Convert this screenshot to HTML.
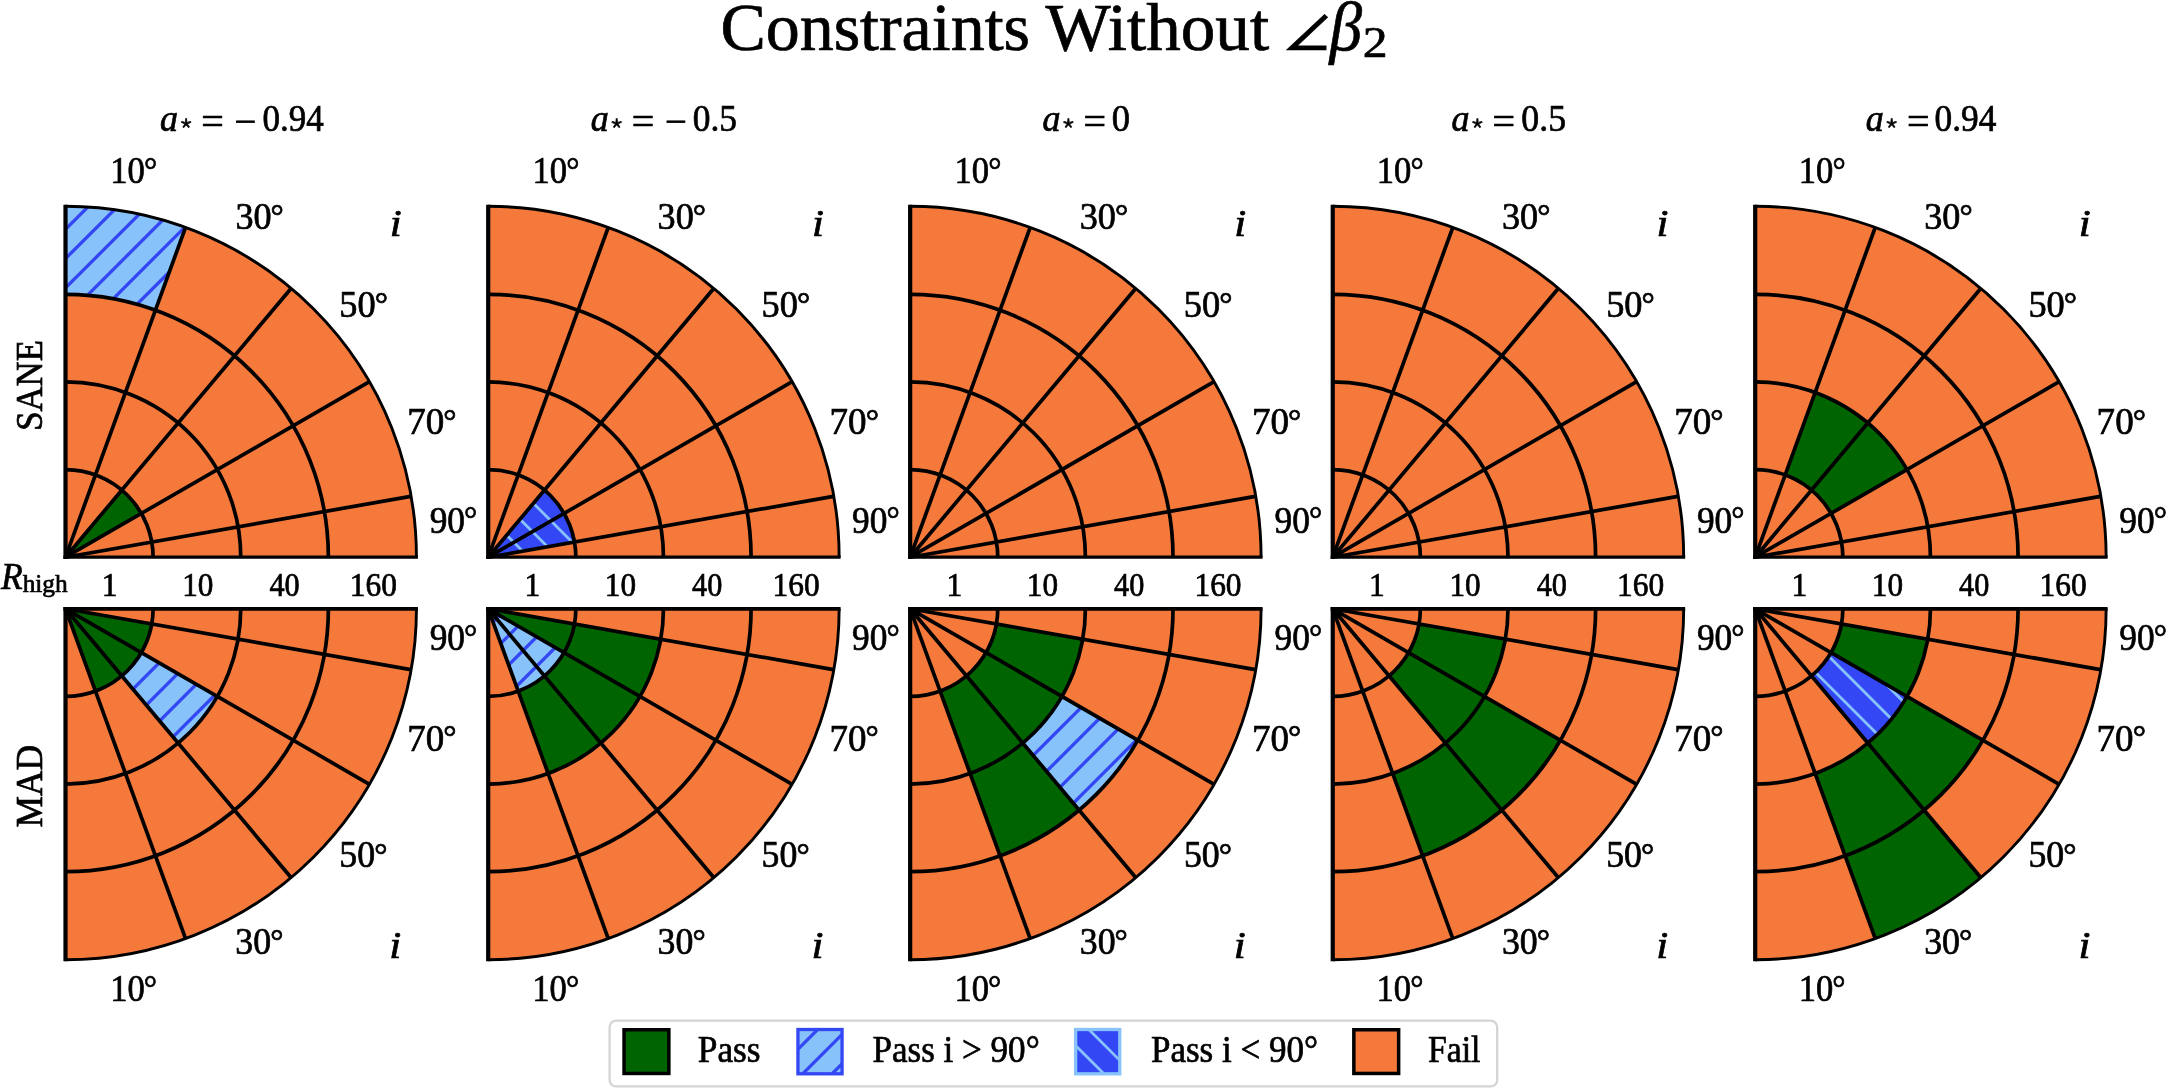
<!DOCTYPE html>
<html><head><meta charset="utf-8"><title>Constraints Without ∠β2</title>
<style>
html,body{margin:0;padding:0;background:#fff;}
svg{display:block;filter:blur(0.4px);font-family:"Liberation Serif","DejaVu Serif",serif;fill:#000;}
text{stroke:#000;stroke-width:0.7px;}
.g{stroke:#000;stroke-width:3.7;fill:none;stroke-linecap:butt;stroke-linejoin:miter}
.t{font-size:33px}
.i{font-style:italic}
</style></head><body>
<svg width="2167" height="1090" viewBox="0 0 2167 1090">
<rect width="2167" height="1090" fill="#fff"/>

<path d="M65.50 557.20L65.50 206.70A350.5 350.5 0 0 1 416.00 557.20Z" fill="#f5793a"/>
<clipPath id="c1"><path d="M65.50 206.70A350.50 350.50 0 0 1 185.38 227.84L155.41 310.18A262.88 262.88 0 0 0 65.50 294.33Z"/></clipPath><g clip-path="url(#c1)"><rect x="63.50" y="204.70" width="123.88" height="107.48" fill="#87c2fa"/><path d="M63.50 202.06L187.38 78.18M63.50 231.35L187.38 107.47M63.50 260.64L187.38 136.76M63.50 289.93L187.38 166.05M63.50 319.22L187.38 195.34M63.50 348.51L187.38 224.63M63.50 377.80L187.38 253.92M63.50 407.09L187.38 283.21M63.50 436.38L187.38 312.50" stroke="#3447f5" stroke-width="3.3" fill="none"/></g>
<path d="M121.82 490.08A87.62 87.62 0 0 1 141.39 513.39L65.50 557.20Z" fill="#006400"/>
<path class="g" d="M65.50 469.58A87.62 87.62 0 0 1 153.12 557.20M65.50 381.95A175.25 175.25 0 0 1 240.75 557.20M65.50 294.33A262.88 262.88 0 0 1 328.38 557.20M65.50 557.20L185.38 227.84M65.50 557.20L290.80 288.70M65.50 557.20L369.04 381.95M65.50 557.20L410.68 496.34"/>
<path class="g" style="stroke-width:2.9" d="M65.50 206.25A350.95 350.95 0 0 1 416.45 557.20"/>
<path class="g" style="stroke-width:4.2" d="M65.50 559.05L65.50 204.80"/>
<path class="g" style="stroke-width:3.3" d="M63.40 557.20L417.90 557.20"/>
<path d="M65.50 608.80L65.50 959.30A350.5 350.5 0 0 0 416.00 608.80Z" fill="#f5793a"/>
<path d="M95.47 691.14A87.62 87.62 0 0 0 121.82 675.92L65.50 608.80Z" fill="#006400"/>
<path d="M121.82 675.92A87.62 87.62 0 0 0 141.39 652.61L65.50 608.80Z" fill="#006400"/>
<path d="M141.39 652.61A87.62 87.62 0 0 0 151.79 624.02L65.50 608.80Z" fill="#006400"/>
<clipPath id="c2"><path d="M178.15 743.05A175.25 175.25 0 0 0 217.27 696.42L141.39 652.61A87.62 87.62 0 0 1 121.82 675.92Z"/></clipPath><g clip-path="url(#c2)"><rect x="119.82" y="650.61" width="99.45" height="94.44" fill="#87c2fa"/><path d="M119.82 643.67L219.27 544.22M119.82 672.96L219.27 573.51M119.82 702.25L219.27 602.80M119.82 731.54L219.27 632.09M119.82 760.83L219.27 661.38M119.82 790.12L219.27 690.67M119.82 819.41L219.27 719.96M119.82 848.70L219.27 749.25" stroke="#3447f5" stroke-width="3.3" fill="none"/></g>
<path class="g" d="M65.50 696.42A87.62 87.62 0 0 0 153.12 608.80M65.50 784.05A175.25 175.25 0 0 0 240.75 608.80M65.50 871.67A262.88 262.88 0 0 0 328.38 608.80M65.50 608.80L185.38 938.16M65.50 608.80L290.80 877.30M65.50 608.80L369.04 784.05M65.50 608.80L410.68 669.66"/>
<path class="g" style="stroke-width:2.9" d="M65.50 959.75A350.95 350.95 0 0 0 416.45 608.80"/>
<path class="g" style="stroke-width:4.2" d="M65.50 606.95L65.50 961.20"/>
<path class="g" style="stroke-width:3.7" d="M63.40 608.80L417.90 608.80"/>
<path d="M488.20 557.20L488.20 206.70A350.5 350.5 0 0 1 838.70 557.20Z" fill="#f5793a"/>
<clipPath id="c3"><path d="M544.52 490.08A87.62 87.62 0 0 1 564.09 513.39L488.20 557.20Z"/></clipPath><g clip-path="url(#c3)"><rect x="486.20" y="488.08" width="79.89" height="71.12" fill="#3447f5"/><path d="M486.20 573.27L566.09 653.16M486.20 543.98L566.09 623.87M486.20 514.69L566.09 594.58M486.20 485.40L566.09 565.29M486.20 456.11L566.09 536.00M486.20 426.82L566.09 506.71M486.20 397.53L566.09 477.42" stroke="#87c2fa" stroke-width="2.8" fill="none"/></g>
<clipPath id="c4"><path d="M564.09 513.39A87.62 87.62 0 0 1 574.49 541.98L488.20 557.20Z"/></clipPath><g clip-path="url(#c4)"><rect x="486.20" y="511.39" width="90.29" height="47.81" fill="#3447f5"/><path d="M486.20 573.27L576.49 663.56M486.20 543.98L576.49 634.27M486.20 514.69L576.49 604.98M486.20 485.40L576.49 575.69M486.20 456.11L576.49 546.40M486.20 426.82L576.49 517.11M486.20 397.53L576.49 487.82" stroke="#87c2fa" stroke-width="2.8" fill="none"/></g>
<path class="g" d="M488.20 469.58A87.62 87.62 0 0 1 575.83 557.20M488.20 381.95A175.25 175.25 0 0 1 663.45 557.20M488.20 294.33A262.88 262.88 0 0 1 751.08 557.20M488.20 557.20L608.08 227.84M488.20 557.20L713.50 288.70M488.20 557.20L791.74 381.95M488.20 557.20L833.38 496.34"/>
<path class="g" style="stroke-width:2.9" d="M488.20 206.25A350.95 350.95 0 0 1 839.15 557.20"/>
<path class="g" style="stroke-width:4.2" d="M488.20 559.05L488.20 204.80"/>
<path class="g" style="stroke-width:3.3" d="M486.10 557.20L840.60 557.20"/>
<path d="M488.20 608.80L488.20 959.30A350.5 350.5 0 0 0 838.70 608.80Z" fill="#f5793a"/>
<path d="M564.09 652.61A87.62 87.62 0 0 0 574.49 624.02L488.20 608.80Z" fill="#006400"/>
<clipPath id="c5"><path d="M544.52 675.92A87.62 87.62 0 0 0 564.09 652.61L488.20 608.80Z"/></clipPath><g clip-path="url(#c5)"><rect x="486.20" y="606.80" width="79.89" height="71.12" fill="#87c2fa"/><path d="M486.20 599.48L566.09 519.59M486.20 628.77L566.09 548.88M486.20 658.06L566.09 578.17M486.20 687.35L566.09 607.46M486.20 716.64L566.09 636.75M486.20 745.93L566.09 666.04M486.20 775.22L566.09 695.33" stroke="#3447f5" stroke-width="3.3" fill="none"/></g>
<clipPath id="c6"><path d="M518.17 691.14A87.62 87.62 0 0 0 544.52 675.92L488.20 608.80Z"/></clipPath><g clip-path="url(#c6)"><rect x="486.20" y="606.80" width="60.32" height="86.34" fill="#87c2fa"/><path d="M486.20 599.48L546.52 539.16M486.20 628.77L546.52 568.45M486.20 658.06L546.52 597.74M486.20 687.35L546.52 627.03M486.20 716.64L546.52 656.32M486.20 745.93L546.52 685.61M486.20 775.22L546.52 714.90" stroke="#3447f5" stroke-width="3.3" fill="none"/></g>
<path d="M548.14 773.48A175.25 175.25 0 0 0 600.85 743.05L544.52 675.92A87.62 87.62 0 0 1 518.17 691.14Z" fill="#006400"/>
<path d="M600.85 743.05A175.25 175.25 0 0 0 639.97 696.42L564.09 652.61A87.62 87.62 0 0 1 544.52 675.92Z" fill="#006400"/>
<path d="M639.97 696.42A175.25 175.25 0 0 0 660.79 639.23L574.49 624.02A87.62 87.62 0 0 1 564.09 652.61Z" fill="#006400"/>
<path class="g" d="M488.20 696.42A87.62 87.62 0 0 0 575.83 608.80M488.20 784.05A175.25 175.25 0 0 0 663.45 608.80M488.20 871.67A262.88 262.88 0 0 0 751.08 608.80M488.20 608.80L608.08 938.16M488.20 608.80L713.50 877.30M488.20 608.80L791.74 784.05M488.20 608.80L833.38 669.66"/>
<path class="g" style="stroke-width:2.9" d="M488.20 959.75A350.95 350.95 0 0 0 839.15 608.80"/>
<path class="g" style="stroke-width:4.2" d="M488.20 606.95L488.20 961.20"/>
<path class="g" style="stroke-width:3.7" d="M486.10 608.80L840.60 608.80"/>
<path d="M910.15 557.20L910.15 206.70A350.5 350.5 0 0 1 1260.65 557.20Z" fill="#f5793a"/>
<path class="g" d="M910.15 469.58A87.62 87.62 0 0 1 997.77 557.20M910.15 381.95A175.25 175.25 0 0 1 1085.40 557.20M910.15 294.33A262.88 262.88 0 0 1 1173.03 557.20M910.15 557.20L1030.03 227.84M910.15 557.20L1135.45 288.70M910.15 557.20L1213.69 381.95M910.15 557.20L1255.33 496.34"/>
<path class="g" style="stroke-width:2.9" d="M910.15 206.25A350.95 350.95 0 0 1 1261.10 557.20"/>
<path class="g" style="stroke-width:4.2" d="M910.15 559.05L910.15 204.80"/>
<path class="g" style="stroke-width:3.3" d="M908.05 557.20L1262.55 557.20"/>
<path d="M910.15 608.80L910.15 959.30A350.5 350.5 0 0 0 1260.65 608.80Z" fill="#f5793a"/>
<path d="M970.09 773.48A175.25 175.25 0 0 0 1022.80 743.05L966.47 675.92A87.62 87.62 0 0 1 940.12 691.14Z" fill="#006400"/>
<path d="M1022.80 743.05A175.25 175.25 0 0 0 1061.92 696.42L986.04 652.61A87.62 87.62 0 0 1 966.47 675.92Z" fill="#006400"/>
<path d="M1061.92 696.42A175.25 175.25 0 0 0 1082.74 639.23L996.44 624.02A87.62 87.62 0 0 1 986.04 652.61Z" fill="#006400"/>
<clipPath id="c7"><path d="M1079.12 810.17A262.88 262.88 0 0 0 1137.81 740.24L1061.92 696.42A175.25 175.25 0 0 1 1022.80 743.05Z"/></clipPath><g clip-path="url(#c7)"><rect x="1020.80" y="694.42" width="119.01" height="117.75" fill="#87c2fa"/><path d="M1020.80 679.97L1139.81 560.96M1020.80 709.26L1139.81 590.25M1020.80 738.55L1139.81 619.54M1020.80 767.84L1139.81 648.83M1020.80 797.13L1139.81 678.12M1020.80 826.42L1139.81 707.41M1020.80 855.71L1139.81 736.70M1020.80 885.00L1139.81 765.99M1020.80 914.29L1139.81 795.28M1020.80 943.58L1139.81 824.57" stroke="#3447f5" stroke-width="3.3" fill="none"/></g>
<path d="M1000.06 855.82A262.88 262.88 0 0 0 1079.12 810.17L1022.80 743.05A175.25 175.25 0 0 1 970.09 773.48Z" fill="#006400"/>
<path class="g" d="M910.15 696.42A87.62 87.62 0 0 0 997.77 608.80M910.15 784.05A175.25 175.25 0 0 0 1085.40 608.80M910.15 871.67A262.88 262.88 0 0 0 1173.03 608.80M910.15 608.80L1030.03 938.16M910.15 608.80L1135.45 877.30M910.15 608.80L1213.69 784.05M910.15 608.80L1255.33 669.66"/>
<path class="g" style="stroke-width:2.9" d="M910.15 959.75A350.95 350.95 0 0 0 1261.10 608.80"/>
<path class="g" style="stroke-width:4.2" d="M910.15 606.95L910.15 961.20"/>
<path class="g" style="stroke-width:3.7" d="M908.05 608.80L1262.55 608.80"/>
<path d="M1332.75 557.20L1332.75 206.70A350.5 350.5 0 0 1 1683.25 557.20Z" fill="#f5793a"/>
<path class="g" d="M1332.75 469.58A87.62 87.62 0 0 1 1420.38 557.20M1332.75 381.95A175.25 175.25 0 0 1 1508.00 557.20M1332.75 294.33A262.88 262.88 0 0 1 1595.62 557.20M1332.75 557.20L1452.63 227.84M1332.75 557.20L1558.05 288.70M1332.75 557.20L1636.29 381.95M1332.75 557.20L1677.93 496.34"/>
<path class="g" style="stroke-width:2.9" d="M1332.75 206.25A350.95 350.95 0 0 1 1683.70 557.20"/>
<path class="g" style="stroke-width:4.2" d="M1332.75 559.05L1332.75 204.80"/>
<path class="g" style="stroke-width:3.3" d="M1330.65 557.20L1685.15 557.20"/>
<path d="M1332.75 608.80L1332.75 959.30A350.5 350.5 0 0 0 1683.25 608.80Z" fill="#f5793a"/>
<path d="M1445.40 743.05A175.25 175.25 0 0 0 1484.52 696.42L1408.64 652.61A87.62 87.62 0 0 1 1389.07 675.92Z" fill="#006400"/>
<path d="M1484.52 696.42A175.25 175.25 0 0 0 1505.34 639.23L1419.04 624.02A87.62 87.62 0 0 1 1408.64 652.61Z" fill="#006400"/>
<path d="M1422.66 855.82A262.88 262.88 0 0 0 1501.72 810.17L1445.40 743.05A175.25 175.25 0 0 1 1392.69 773.48Z" fill="#006400"/>
<path d="M1501.72 810.17A262.88 262.88 0 0 0 1560.41 740.24L1484.52 696.42A175.25 175.25 0 0 1 1445.40 743.05Z" fill="#006400"/>
<path class="g" d="M1332.75 696.42A87.62 87.62 0 0 0 1420.38 608.80M1332.75 784.05A175.25 175.25 0 0 0 1508.00 608.80M1332.75 871.67A262.88 262.88 0 0 0 1595.62 608.80M1332.75 608.80L1452.63 938.16M1332.75 608.80L1558.05 877.30M1332.75 608.80L1636.29 784.05M1332.75 608.80L1677.93 669.66"/>
<path class="g" style="stroke-width:2.9" d="M1332.75 959.75A350.95 350.95 0 0 0 1683.70 608.80"/>
<path class="g" style="stroke-width:4.2" d="M1332.75 606.95L1332.75 961.20"/>
<path class="g" style="stroke-width:3.7" d="M1330.65 608.80L1685.15 608.80"/>
<path d="M1755.20 557.20L1755.20 206.70A350.5 350.5 0 0 1 2105.70 557.20Z" fill="#f5793a"/>
<path d="M1815.14 392.52A175.25 175.25 0 0 1 1867.85 422.95L1811.52 490.08A87.62 87.62 0 0 0 1785.17 474.86Z" fill="#006400"/>
<path d="M1867.85 422.95A175.25 175.25 0 0 1 1906.97 469.58L1831.09 513.39A87.62 87.62 0 0 0 1811.52 490.08Z" fill="#006400"/>
<path class="g" d="M1755.20 469.58A87.62 87.62 0 0 1 1842.83 557.20M1755.20 381.95A175.25 175.25 0 0 1 1930.45 557.20M1755.20 294.33A262.88 262.88 0 0 1 2018.08 557.20M1755.20 557.20L1875.08 227.84M1755.20 557.20L1980.50 288.70M1755.20 557.20L2058.74 381.95M1755.20 557.20L2100.38 496.34"/>
<path class="g" style="stroke-width:2.9" d="M1755.20 206.25A350.95 350.95 0 0 1 2106.15 557.20"/>
<path class="g" style="stroke-width:4.2" d="M1755.20 559.05L1755.20 204.80"/>
<path class="g" style="stroke-width:3.3" d="M1753.10 557.20L2107.60 557.20"/>
<path d="M1755.20 608.80L1755.20 959.30A350.5 350.5 0 0 0 2105.70 608.80Z" fill="#f5793a"/>
<path d="M1906.97 696.42A175.25 175.25 0 0 0 1927.79 639.23L1841.49 624.02A87.62 87.62 0 0 1 1831.09 652.61Z" fill="#006400"/>
<clipPath id="c8"><path d="M1867.85 743.05A175.25 175.25 0 0 0 1906.97 696.42L1831.09 652.61A87.62 87.62 0 0 1 1811.52 675.92Z"/></clipPath><g clip-path="url(#c8)"><rect x="1809.52" y="650.61" width="99.45" height="94.44" fill="#3447f5"/><path d="M1809.52 754.28L1908.97 853.73M1809.52 724.99L1908.97 824.44M1809.52 695.70L1908.97 795.15M1809.52 666.41L1908.97 765.86M1809.52 637.12L1908.97 736.57M1809.52 607.83L1908.97 707.28M1809.52 578.54L1908.97 677.99M1809.52 549.25L1908.97 648.70" stroke="#87c2fa" stroke-width="2.8" fill="none"/></g>
<path d="M1845.11 855.82A262.88 262.88 0 0 0 1924.17 810.17L1867.85 743.05A175.25 175.25 0 0 1 1815.14 773.48Z" fill="#006400"/>
<path d="M1924.17 810.17A262.88 262.88 0 0 0 1982.86 740.24L1906.97 696.42A175.25 175.25 0 0 1 1867.85 743.05Z" fill="#006400"/>
<path d="M1875.08 938.16A350.50 350.50 0 0 0 1980.50 877.30L1924.17 810.17A262.88 262.88 0 0 1 1845.11 855.82Z" fill="#006400"/>
<path class="g" d="M1755.20 696.42A87.62 87.62 0 0 0 1842.83 608.80M1755.20 784.05A175.25 175.25 0 0 0 1930.45 608.80M1755.20 871.67A262.88 262.88 0 0 0 2018.08 608.80M1755.20 608.80L1875.08 938.16M1755.20 608.80L1980.50 877.30M1755.20 608.80L2058.74 784.05M1755.20 608.80L2100.38 669.66"/>
<path class="g" style="stroke-width:2.9" d="M1755.20 959.75A350.95 350.95 0 0 0 2106.15 608.80"/>
<path class="g" style="stroke-width:4.2" d="M1755.20 606.95L1755.20 961.20"/>
<path class="g" style="stroke-width:3.7" d="M1753.10 608.80L2107.60 608.80"/>
<rect x="609.6" y="1020.7" width="887.6" height="65.7" rx="6.5" ry="6.5" fill="#fff" stroke="#d4d4d4" stroke-width="2.3"/>
<rect x="624.05" y="1029.75" width="44.8" height="43.7" fill="#006400" stroke="#000" stroke-width="3.5"/>
<clipPath id="c9"><rect x="797.95" y="1029.5" width="44.1" height="44.3"/></clipPath><g clip-path="url(#c9)"><rect x="796.30" y="1028.00" width="48.40" height="47.20" fill="#87c2fa"/><path d="M796.30 1021.63L844.70 973.23M796.30 1050.92L844.70 1002.52M796.30 1080.21L844.70 1031.81M796.30 1109.50L844.70 1061.10M796.30 1138.79L844.70 1090.39" stroke="#3447f5" stroke-width="3.3" fill="none"/></g><rect x="797.95" y="1029.5" width="44.1" height="44.3" fill="none" stroke="#3447f5" stroke-width="3.3"/>
<clipPath id="c10"><rect x="1075.65" y="1029.5" width="44.1" height="44.3"/></clipPath><g clip-path="url(#c10)"><rect x="1074.00" y="1028.00" width="48.40" height="47.20" fill="#3447f5"/><path d="M1074.00 1102.49L1122.40 1150.89M1074.00 1073.20L1122.40 1121.60M1074.00 1043.91L1122.40 1092.31M1074.00 1014.62L1122.40 1063.02M1074.00 985.33L1122.40 1033.73M1074.00 956.04L1122.40 1004.44" stroke="#87c2fa" stroke-width="2.8" fill="none"/></g><rect x="1075.65" y="1029.5" width="44.1" height="44.3" fill="none" stroke="#87c2fa" stroke-width="3.3"/>
<rect x="1353.85" y="1029.75" width="44.8" height="43.7" fill="#f5793a" stroke="#000" stroke-width="3.5"/>
<text transform="translate(720.38 49.60) scale(1.0175 1)" font-size="66.80">Constraints</text>
<text transform="translate(1045.40 49.60) scale(1.0346 1)" font-size="66.80">Without</text>
<text transform="translate(1282.14 49.50) scale(1.0662 1)" font-size="51.10" font-family="'DejaVu Math TeX Gyre','DejaVu Sans',sans-serif">∠</text>
<text transform="translate(1329.44 50.20) scale(0.9387 1)" font-size="69.50" font-style="italic">β</text>
<text transform="translate(1362.69 56.90) scale(1.1267 1)" font-size="44.10">2</text>
<text transform="translate(160.12 130.80) scale(0.9748 1)" font-size="37.00" font-style="italic">a</text>
<text transform="translate(179.65 128.60) scale(1.0173 1)" font-size="20.30" font-family="'DejaVu Math TeX Gyre','DejaVu Sans',sans-serif">⋆</text>
<text transform="translate(201.20 133.80) scale(1.0667 1)" font-size="37.50">=</text>
<text transform="translate(234.46 133.90) scale(1.0323 1)" font-size="37.50">−</text>
<text transform="translate(262.49 130.80) scale(0.9331 1)" font-size="37.50">0.94</text>
<text transform="translate(590.72 130.80) scale(0.9748 1)" font-size="37.00" font-style="italic">a</text>
<text transform="translate(610.25 128.60) scale(1.0173 1)" font-size="20.30" font-family="'DejaVu Math TeX Gyre','DejaVu Sans',sans-serif">⋆</text>
<text transform="translate(631.80 133.80) scale(1.0667 1)" font-size="37.50">=</text>
<text transform="translate(665.06 133.90) scale(1.0323 1)" font-size="37.50">−</text>
<text transform="translate(692.77 130.80) scale(0.9441 1)" font-size="37.50">0.5</text>
<text transform="translate(1042.52 130.80) scale(0.9748 1)" font-size="37.00" font-style="italic">a</text>
<text transform="translate(1062.05 128.60) scale(1.0173 1)" font-size="20.30" font-family="'DejaVu Math TeX Gyre','DejaVu Sans',sans-serif">⋆</text>
<text transform="translate(1083.60 133.80) scale(1.0667 1)" font-size="37.50">=</text>
<text transform="translate(1111.73 130.80) scale(0.9725 1)" font-size="37.50">0</text>
<text transform="translate(1451.52 130.80) scale(0.9748 1)" font-size="37.00" font-style="italic">a</text>
<text transform="translate(1471.05 128.60) scale(1.0173 1)" font-size="20.30" font-family="'DejaVu Math TeX Gyre','DejaVu Sans',sans-serif">⋆</text>
<text transform="translate(1492.60 133.80) scale(1.0667 1)" font-size="37.50">=</text>
<text transform="translate(1521.36 130.80) scale(0.9532 1)" font-size="37.50">0.5</text>
<text transform="translate(1865.82 130.80) scale(0.9748 1)" font-size="37.00" font-style="italic">a</text>
<text transform="translate(1885.35 128.60) scale(1.0173 1)" font-size="20.30" font-family="'DejaVu Math TeX Gyre','DejaVu Sans',sans-serif">⋆</text>
<text transform="translate(1906.90 133.80) scale(1.0667 1)" font-size="37.50">=</text>
<text transform="translate(1934.57 130.80) scale(0.9426 1)" font-size="37.50">0.94</text>
<text transform="translate(110.27 182.60) scale(0.9234 1)" font-size="37.50">10<tspan x="36.56" dy="-0.85" font-size="35.86">°</tspan></text>
<text transform="translate(235.38 228.70) scale(0.9647 1)" font-size="37.50">30<tspan x="36.54" dy="-1.87" font-size="34.33">°</tspan></text>
<text transform="translate(339.31 316.90) scale(0.9694 1)" font-size="37.50">50<tspan x="36.53" dy="-1.98" font-size="34.16">°</tspan></text>
<text transform="translate(407.19 434.10) scale(0.9879 1)" font-size="37.50">70<tspan x="36.53" dy="-2.41" font-size="33.52">°</tspan></text>
<text transform="translate(429.65 532.50) scale(0.9419 1)" font-size="37.50">90<tspan x="36.55" dy="-1.32" font-size="35.16">°</tspan></text>
<text transform="translate(429.65 650.00) scale(0.9419 1)" font-size="37.50">90<tspan x="36.55" dy="-1.32" font-size="35.16">°</tspan></text>
<text transform="translate(407.20 750.80) scale(0.9864 1)" font-size="37.50">70<tspan x="36.53" dy="-2.38" font-size="33.57">°</tspan></text>
<text transform="translate(339.34 867.30) scale(0.9547 1)" font-size="37.50">50<tspan x="36.54" dy="-1.63" font-size="34.69">°</tspan></text>
<text transform="translate(235.35 953.90) scale(0.9545 1)" font-size="37.50">30<tspan x="36.54" dy="-1.63" font-size="34.69">°</tspan></text>
<text transform="translate(110.18 1000.60) scale(0.9204 1)" font-size="37.50">10<tspan x="36.56" dy="-0.77" font-size="35.98">°</tspan></text>
<text transform="translate(389.63 235.50) scale(1.1113 1)" font-size="38.80" font-style="italic">i</text>
<text transform="translate(389.23 957.70) scale(1.1113 1)" font-size="38.80" font-style="italic">i</text>
<text transform="translate(101.74 595.60) scale(0.9630 1)" font-size="32.70">1</text>
<text transform="translate(182.17 595.60) scale(0.9541 1)" font-size="32.70">10</text>
<text transform="translate(269.40 595.60) scale(0.9247 1)" font-size="32.70">40</text>
<text transform="translate(349.80 595.60) scale(0.9606 1)" font-size="32.70">160</text>
<text transform="translate(532.40 182.60) scale(0.9234 1)" font-size="37.50">10<tspan x="36.56" dy="-0.85" font-size="35.86">°</tspan></text>
<text transform="translate(657.59 228.70) scale(0.9647 1)" font-size="37.50">30<tspan x="36.54" dy="-1.87" font-size="34.33">°</tspan></text>
<text transform="translate(761.59 316.90) scale(0.9694 1)" font-size="37.50">50<tspan x="36.53" dy="-1.98" font-size="34.16">°</tspan></text>
<text transform="translate(829.55 434.10) scale(0.9879 1)" font-size="37.50">70<tspan x="36.53" dy="-2.41" font-size="33.52">°</tspan></text>
<text transform="translate(852.08 532.50) scale(0.9419 1)" font-size="37.50">90<tspan x="36.55" dy="-1.32" font-size="35.16">°</tspan></text>
<text transform="translate(852.08 650.00) scale(0.9419 1)" font-size="37.50">90<tspan x="36.55" dy="-1.32" font-size="35.16">°</tspan></text>
<text transform="translate(829.55 750.80) scale(0.9864 1)" font-size="37.50">70<tspan x="36.53" dy="-2.38" font-size="33.57">°</tspan></text>
<text transform="translate(761.62 867.30) scale(0.9547 1)" font-size="37.50">50<tspan x="36.54" dy="-1.63" font-size="34.69">°</tspan></text>
<text transform="translate(657.55 953.90) scale(0.9545 1)" font-size="37.50">30<tspan x="36.54" dy="-1.63" font-size="34.69">°</tspan></text>
<text transform="translate(532.31 1000.60) scale(0.9204 1)" font-size="37.50">10<tspan x="36.56" dy="-0.77" font-size="35.98">°</tspan></text>
<text transform="translate(811.93 235.50) scale(1.1113 1)" font-size="38.80" font-style="italic">i</text>
<text transform="translate(811.53 957.70) scale(1.1113 1)" font-size="38.80" font-style="italic">i</text>
<text transform="translate(524.44 595.60) scale(0.9630 1)" font-size="32.70">1</text>
<text transform="translate(604.87 595.60) scale(0.9541 1)" font-size="32.70">10</text>
<text transform="translate(692.10 595.60) scale(0.9247 1)" font-size="32.70">40</text>
<text transform="translate(772.50 595.60) scale(0.9606 1)" font-size="32.70">160</text>
<text transform="translate(954.53 182.60) scale(0.9234 1)" font-size="37.50">10<tspan x="36.56" dy="-0.85" font-size="35.86">°</tspan></text>
<text transform="translate(1079.79 228.70) scale(0.9647 1)" font-size="37.50">30<tspan x="36.54" dy="-1.87" font-size="34.33">°</tspan></text>
<text transform="translate(1183.87 316.90) scale(0.9694 1)" font-size="37.50">50<tspan x="36.53" dy="-1.98" font-size="34.16">°</tspan></text>
<text transform="translate(1251.90 434.10) scale(0.9879 1)" font-size="37.50">70<tspan x="36.53" dy="-2.41" font-size="33.52">°</tspan></text>
<text transform="translate(1274.51 532.50) scale(0.9419 1)" font-size="37.50">90<tspan x="36.55" dy="-1.32" font-size="35.16">°</tspan></text>
<text transform="translate(1274.51 650.00) scale(0.9419 1)" font-size="37.50">90<tspan x="36.55" dy="-1.32" font-size="35.16">°</tspan></text>
<text transform="translate(1251.91 750.80) scale(0.9864 1)" font-size="37.50">70<tspan x="36.53" dy="-2.38" font-size="33.57">°</tspan></text>
<text transform="translate(1183.90 867.30) scale(0.9547 1)" font-size="37.50">50<tspan x="36.54" dy="-1.63" font-size="34.69">°</tspan></text>
<text transform="translate(1079.76 953.90) scale(0.9545 1)" font-size="37.50">30<tspan x="36.54" dy="-1.63" font-size="34.69">°</tspan></text>
<text transform="translate(954.44 1000.60) scale(0.9204 1)" font-size="37.50">10<tspan x="36.56" dy="-0.77" font-size="35.98">°</tspan></text>
<text transform="translate(1234.23 235.50) scale(1.1113 1)" font-size="38.80" font-style="italic">i</text>
<text transform="translate(1233.83 957.70) scale(1.1113 1)" font-size="38.80" font-style="italic">i</text>
<text transform="translate(946.39 595.60) scale(0.9630 1)" font-size="32.70">1</text>
<text transform="translate(1026.82 595.60) scale(0.9541 1)" font-size="32.70">10</text>
<text transform="translate(1114.05 595.60) scale(0.9247 1)" font-size="32.70">40</text>
<text transform="translate(1194.45 595.60) scale(0.9606 1)" font-size="32.70">160</text>
<text transform="translate(1376.66 182.60) scale(0.9234 1)" font-size="37.50">10<tspan x="36.56" dy="-0.85" font-size="35.86">°</tspan></text>
<text transform="translate(1502.00 228.70) scale(0.9647 1)" font-size="37.50">30<tspan x="36.54" dy="-1.87" font-size="34.33">°</tspan></text>
<text transform="translate(1606.15 316.90) scale(0.9694 1)" font-size="37.50">50<tspan x="36.53" dy="-1.98" font-size="34.16">°</tspan></text>
<text transform="translate(1674.26 434.10) scale(0.9879 1)" font-size="37.50">70<tspan x="36.53" dy="-2.41" font-size="33.52">°</tspan></text>
<text transform="translate(1696.94 532.50) scale(0.9419 1)" font-size="37.50">90<tspan x="36.55" dy="-1.32" font-size="35.16">°</tspan></text>
<text transform="translate(1696.94 650.00) scale(0.9419 1)" font-size="37.50">90<tspan x="36.55" dy="-1.32" font-size="35.16">°</tspan></text>
<text transform="translate(1674.26 750.80) scale(0.9864 1)" font-size="37.50">70<tspan x="36.53" dy="-2.38" font-size="33.57">°</tspan></text>
<text transform="translate(1606.18 867.30) scale(0.9547 1)" font-size="37.50">50<tspan x="36.54" dy="-1.63" font-size="34.69">°</tspan></text>
<text transform="translate(1501.96 953.90) scale(0.9545 1)" font-size="37.50">30<tspan x="36.54" dy="-1.63" font-size="34.69">°</tspan></text>
<text transform="translate(1376.57 1000.60) scale(0.9204 1)" font-size="37.50">10<tspan x="36.56" dy="-0.77" font-size="35.98">°</tspan></text>
<text transform="translate(1656.53 235.50) scale(1.1113 1)" font-size="38.80" font-style="italic">i</text>
<text transform="translate(1656.13 957.70) scale(1.1113 1)" font-size="38.80" font-style="italic">i</text>
<text transform="translate(1368.99 595.60) scale(0.9630 1)" font-size="32.70">1</text>
<text transform="translate(1449.42 595.60) scale(0.9541 1)" font-size="32.70">10</text>
<text transform="translate(1536.65 595.60) scale(0.9247 1)" font-size="32.70">40</text>
<text transform="translate(1617.05 595.60) scale(0.9606 1)" font-size="32.70">160</text>
<text transform="translate(1798.79 182.60) scale(0.9234 1)" font-size="37.50">10<tspan x="36.56" dy="-0.85" font-size="35.86">°</tspan></text>
<text transform="translate(1924.20 228.70) scale(0.9647 1)" font-size="37.50">30<tspan x="36.54" dy="-1.87" font-size="34.33">°</tspan></text>
<text transform="translate(2028.43 316.90) scale(0.9694 1)" font-size="37.50">50<tspan x="36.53" dy="-1.98" font-size="34.16">°</tspan></text>
<text transform="translate(2096.61 434.10) scale(0.9879 1)" font-size="37.50">70<tspan x="36.53" dy="-2.41" font-size="33.52">°</tspan></text>
<text transform="translate(2119.37 532.50) scale(0.9419 1)" font-size="37.50">90<tspan x="36.55" dy="-1.32" font-size="35.16">°</tspan></text>
<text transform="translate(2119.37 650.00) scale(0.9419 1)" font-size="37.50">90<tspan x="36.55" dy="-1.32" font-size="35.16">°</tspan></text>
<text transform="translate(2096.62 750.80) scale(0.9864 1)" font-size="37.50">70<tspan x="36.53" dy="-2.38" font-size="33.57">°</tspan></text>
<text transform="translate(2028.46 867.30) scale(0.9547 1)" font-size="37.50">50<tspan x="36.54" dy="-1.63" font-size="34.69">°</tspan></text>
<text transform="translate(1924.17 953.90) scale(0.9545 1)" font-size="37.50">30<tspan x="36.54" dy="-1.63" font-size="34.69">°</tspan></text>
<text transform="translate(1798.70 1000.60) scale(0.9204 1)" font-size="37.50">10<tspan x="36.56" dy="-0.77" font-size="35.98">°</tspan></text>
<text transform="translate(2078.83 235.50) scale(1.1113 1)" font-size="38.80" font-style="italic">i</text>
<text transform="translate(2078.43 957.70) scale(1.1113 1)" font-size="38.80" font-style="italic">i</text>
<text transform="translate(1791.44 595.60) scale(0.9630 1)" font-size="32.70">1</text>
<text transform="translate(1871.87 595.60) scale(0.9541 1)" font-size="32.70">10</text>
<text transform="translate(1959.10 595.60) scale(0.9247 1)" font-size="32.70">40</text>
<text transform="translate(2039.50 595.60) scale(0.9606 1)" font-size="32.70">160</text>
<text transform="translate(0.88 588.60) scale(0.9126 1)" font-size="38.90" font-style="italic">R</text>
<text transform="translate(22.65 591.60) scale(0.9905 1)" font-size="25.60">high</text>
<text transform="translate(41.70 430.85) rotate(-90) scale(0.9217 1)" font-size="37.70">SANE</text>
<text transform="translate(41.70 827.57) rotate(-90) scale(0.9393 1)" font-size="37.70">MAD</text>
<text transform="translate(697.73 1062.40) scale(0.9299 1)" font-size="38.00">Pass</text>
<text transform="translate(872.44 1062.40) scale(0.9232 1)" font-size="38.00">Pass i &gt; 90°</text>
<text transform="translate(1150.94 1062.40) scale(0.9220 1)" font-size="38.00">Pass i &lt; 90°</text>
<text transform="translate(1427.97 1062.40) scale(0.8885 1)" font-size="38.00">Fail</text>
</svg></body></html>
